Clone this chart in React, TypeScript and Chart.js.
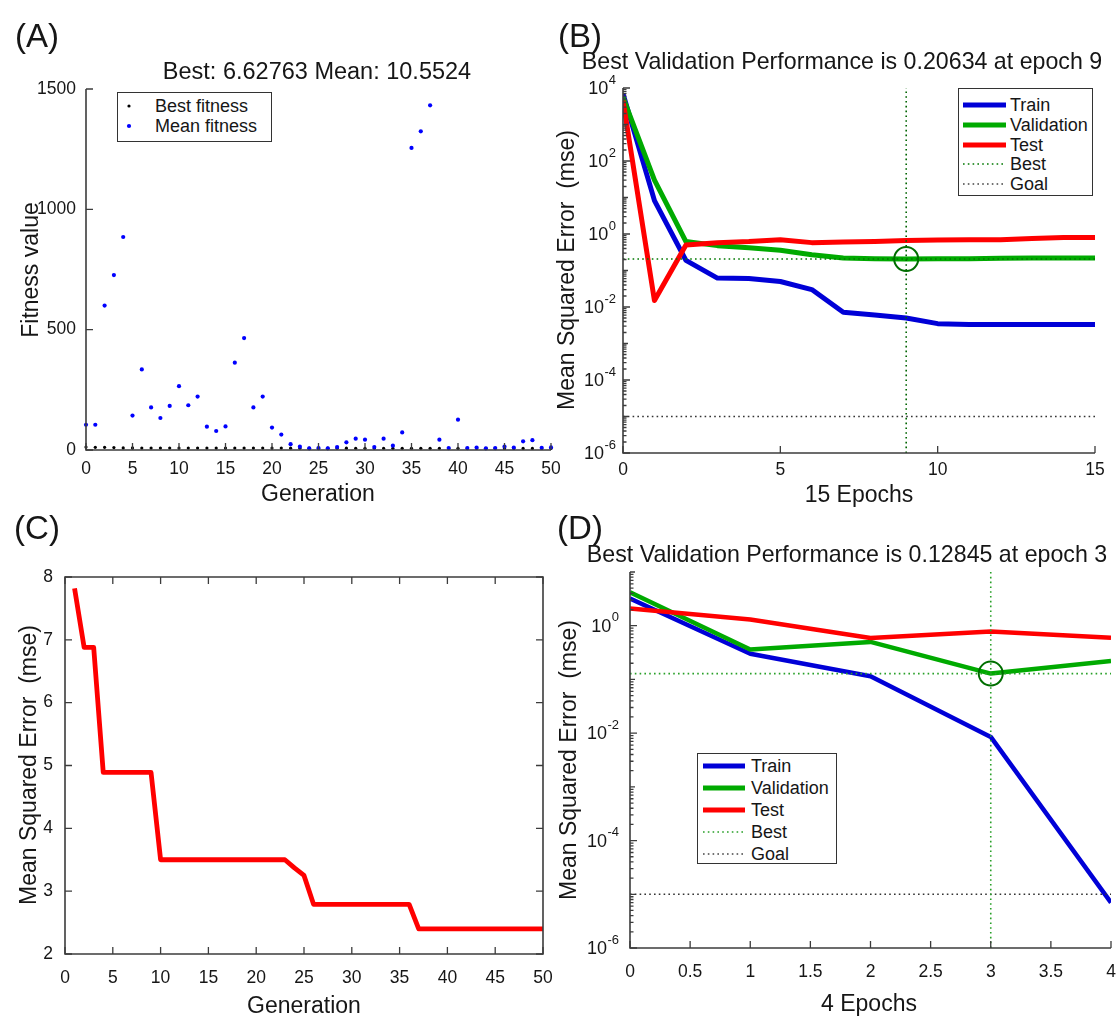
import React, { useEffect, useRef } from "react";
import { Chart, registerables } from "chart.js";

Chart.register(...registerables);

const FONT = "'Liberation Sans', Arial, Helvetica, sans-serif";
Chart.defaults.font.family = FONT;

// ---------------- Panel A : GA fitness ----------------
const generationsA = [0,1,2,3,4,5,6,7,8,9,10,11,12,13,14,15,16,17,18,19,20,21,22,23,24,25,26,27,28,29,30,31,32,33,34,35,36,37,38,39,40,41,42,43,44,45,46,47,48,49,50];
const bestFitnessA = [12,11,11,10,8.5,8.5,8,8,8,8,8,8,8,8,8,7.8,7.8,7.8,7.8,7.8,7.8,7.8,7.6,7.6,7.6,7.4,7.4,7.4,7.4,7.2,7.2,7.2,7.2,7.0,7.0,7.0,7.0,6.9,6.9,6.9,6.9,6.8,6.8,6.8,6.8,6.7,6.7,6.7,6.7,6.63,6.63];
const meanFitnessA = [105,105,600,727,885,143,335,177,133,183,265,186,222,97,79,98,363,465,177,222,93,64,24,14,7,8,7,12,32,47,43,12,47,18,73,1255,1324,1432,43,8,126,8,10,7,8,14,10,36,41,9,10.55];
const xTicksA = [0,5,10,15,20,25,30,35,40,45,50];
const yTicksA = [0,500,1000,1500];

// ---------------- Panel B : 15 epochs ----------------
const epochsB = [0,1,2,3,4,5,6,7,8,9,10,11,12,13,14,15];
const trainB = [7000,8.2,0.19,0.062,0.06,0.05,0.03,0.0072,0.006,0.005,0.0035,0.0033,0.0033,0.0033,0.0033,0.0033];
const validB = [5500,30,0.62,0.48,0.42,0.36,0.27,0.22,0.21,0.20634,0.21,0.21,0.215,0.22,0.22,0.22];
const testB = [4500,0.015,0.5,0.58,0.62,0.7,0.58,0.6,0.62,0.66,0.68,0.7,0.7,0.75,0.8,0.8];
const bestEpochB = 9;
const bestPerfB = 0.20634;
const goalB = 1e-5;
const xTicksB = [0,5,10,15];
const yLabelExpB = [4,2,0,-2,-4,-6];

// ---------------- Panel C : MSE vs generation ----------------
const generationsC = [1,2,3,4,5,6,7,8,9,10,11,12,13,14,15,16,17,18,19,20,21,22,23,24,25,26,27,28,29,30,31,32,33,34,35,36,37,38,39,40,41,42,43,44,45,46,47,48,49,50];
const mseC = [7.82,6.88,6.88,4.89,4.89,4.89,4.89,4.89,4.89,3.5,3.5,3.5,3.5,3.5,3.5,3.5,3.5,3.5,3.5,3.5,3.5,3.5,3.5,3.37,3.25,2.79,2.79,2.79,2.79,2.79,2.79,2.79,2.79,2.79,2.79,2.79,2.4,2.4,2.4,2.4,2.4,2.4,2.4,2.4,2.4,2.4,2.4,2.4,2.4,2.4];
const xTicksC = [0,5,10,15,20,25,30,35,40,45,50];
const yTicksC = [2,3,4,5,6,7,8];

// ---------------- Panel D : 4 epochs ----------------
const epochsD = [0,1,2,3,4];
const trainD = [3.2,0.3,0.115,0.0085,7e-6];
const validD = [4.2,0.36,0.5,0.12845,0.22];
const testD = [2.1,1.3,0.59,0.78,0.6];
const bestEpochD = 3;
const bestPerfD = 0.12845;
const goalD = 1e-5;
const xTicksD = [0,0.5,1,1.5,2,2.5,3,3.5,4];
const yLabelExpD = [0,-2,-4,-6];

const BLUE = "rgb(0,0,215)";
const GREEN = "rgb(0,170,0)";
const RED = "rgb(255,0,0)";
const AXIS = "#3c3c3c";
const TXT = "#161616";

type Area = { l: number; t: number; r: number; b: number };
type Frame = { left: number; top: number; width: number; height: number; area: Area };

function minorTicks(fromExp: number, toExp: number): number[] {
  const out: number[] = [];
  for (let e = fromExp; e < toExp; e++) {
    for (let m = 2; m <= 9; m++) out.push(m * Math.pow(10, e));
  }
  return out;
}
function decades(fromExp: number, toExp: number): number[] {
  const out: number[] = [];
  for (let e = fromExp; e <= toExp; e++) out.push(Math.pow(10, e));
  return out;
}

type AxesOpts = {
  box: boolean;
  xTicks: number[];
  yMajor: number[];
  yMid?: number[];
  yMinor?: number[];
  logLabels?: number[];
  logGap?: number;
};

function axesPlugin(o: AxesOpts) {
  return {
    id: "matlabAxes",
    afterDraw(chart: any) {
      const { ctx, chartArea: a } = chart;
      const xs = chart.scales.x;
      const ys = chart.scales.y;
      ctx.save();
      ctx.strokeStyle = AXIS;
      ctx.lineWidth = 1.6;
      ctx.beginPath();
      if (o.box) {
        ctx.rect(a.left, a.top, a.right - a.left, a.bottom - a.top);
      } else {
        ctx.moveTo(a.left, a.top);
        ctx.lineTo(a.left, a.bottom);
        ctx.lineTo(a.right, a.bottom);
      }
      ctx.stroke();
      ctx.lineWidth = 1.3;
      ctx.beginPath();
      const L = 7;
      for (const v of o.xTicks) {
        const p = xs.getPixelForValue(v);
        ctx.moveTo(p, a.bottom);
        ctx.lineTo(p, a.bottom - L);
        if (o.box) {
          ctx.moveTo(p, a.top);
          ctx.lineTo(p, a.top + L);
        }
      }
      const yt = (vals: number[] | undefined, len: number) => {
        for (const v of vals || []) {
          const p = ys.getPixelForValue(v);
          ctx.moveTo(a.left, p);
          ctx.lineTo(a.left + len, p);
          if (o.box) {
            ctx.moveTo(a.right, p);
            ctx.lineTo(a.right - len, p);
          }
        }
      };
      yt(o.yMajor, L);
      yt(o.yMid, 5);
      yt(o.yMinor, 3.5);
      ctx.stroke();
      if (o.logLabels) {
        ctx.fillStyle = TXT;
        const right = a.left - (o.logGap ?? 7);
        for (const e of o.logLabels) {
          const y = ys.getPixelForValue(Math.pow(10, e));
          const es = e < 0 ? "-" + Math.abs(e) : String(e);
          ctx.font = `13px ${FONT}`;
          const ew = ctx.measureText(es).width;
          ctx.textBaseline = "middle";
          ctx.textAlign = "left";
          ctx.fillText(es, right - ew, y - 8);
          ctx.font = `18px ${FONT}`;
          ctx.textAlign = "right";
          ctx.fillText("10", right - ew - 0.5, y + 1);
        }
      }
      ctx.restore();
    },
  };
}

function baseOptions(
  f: Frame,
  x: { min: number; max: number; ticks: number[]; pad: number },
  y: { type: "linear" | "logarithmic"; min: number; max: number; ticks?: number[]; pad?: number }
) {
  const a = f.area;
  const xHeight = f.top + f.height - a.b;
  const yWidth = a.l - f.left;
  return {
    responsive: false,
    maintainAspectRatio: false,
    animation: false,
    devicePixelRatio: 1,
    events: [],
    layout: { padding: { left: 0, top: a.t - f.top, right: f.left + f.width - a.r, bottom: 0 } },
    plugins: { legend: { display: false }, tooltip: { enabled: false }, title: { display: false } },
    scales: {
      x: {
        type: "linear",
        min: x.min,
        max: x.max,
        grid: { display: false, drawTicks: false },
        border: { display: false },
        ticks: {
          padding: x.pad,
          color: TXT,
          font: { family: FONT, size: 17.5 },
          maxRotation: 0,
          autoSkip: false,
          callback: (v: any) => String(v),
        },
        afterBuildTicks: (s: any) => {
          s.ticks = x.ticks.map((v) => ({ value: v }));
        },
        afterFit: (s: any) => {
          s.height = xHeight;
        },
      },
      y: {
        type: y.type,
        min: y.min,
        max: y.max,
        grid: { display: false, drawTicks: false },
        border: { display: false },
        ticks: {
          display: !!y.ticks,
          padding: y.pad ?? 10,
          color: TXT,
          font: { family: FONT, size: 17.5 },
          autoSkip: false,
          callback: (v: any) => String(v),
        },
        afterBuildTicks: (s: any) => {
          if (y.ticks) s.ticks = y.ticks.map((v) => ({ value: v }));
        },
        afterFit: (s: any) => {
          s.width = yWidth;
        },
      },
    },
  };
}

const pts = (xs: number[], ys: number[]) => xs.map((v, i) => ({ x: v, y: ys[i] }));

function lineDs(data: any[], color: string, width: number) {
  return {
    type: "line",
    data,
    borderColor: color,
    backgroundColor: color,
    borderWidth: width,
    pointRadius: 0,
    tension: 0,
    borderJoinStyle: "round",
    fill: false,
  };
}
function dottedDs(data: any[], color: string) {
  return {
    type: "line",
    data,
    borderColor: color,
    borderWidth: 1.6,
    borderDash: [1.6, 3.2],
    pointRadius: 0,
    tension: 0,
    fill: false,
  };
}
function circleDs(xv: number, yv: number, color: string) {
  return {
    type: "scatter",
    data: [{ x: xv, y: yv }],
    pointStyle: "circle",
    pointRadius: 12,
    pointBorderColor: color,
    pointBackgroundColor: "rgba(0,0,0,0)",
    pointBorderWidth: 2,
    clip: false,
  };
}

const frameA: Frame = { left: 0, top: 40, width: 580, height: 445, area: { l: 86, t: 89, r: 551, b: 450 } };
const frameB: Frame = { left: 560, top: 40, width: 580, height: 445, area: { l: 623, t: 88, r: 1095, b: 453 } };
const frameC: Frame = { left: 0, top: 530, width: 580, height: 487, area: { l: 65, t: 577, r: 543, b: 954 } };
const frameD: Frame = { left: 560, top: 530, width: 590, height: 487, area: { l: 630, t: 572, r: 1111, b: 948 } };

function makeA() {
  return {
    type: "scatter",
    data: {
      datasets: [
        {
          data: pts(generationsA, meanFitnessA),
          pointRadius: 2.1,
          pointBorderWidth: 0,
          pointBackgroundColor: "rgb(0,0,255)",
          clip: false,
        },
        {
          data: pts(generationsA, bestFitnessA),
          pointRadius: 1.6,
          pointBorderWidth: 0,
          pointBackgroundColor: "#000",
          clip: false,
        },
      ],
    },
    options: baseOptions(frameA, { min: 0, max: 50, ticks: xTicksA, pad: 9 }, { type: "linear", min: 0, max: 1500, ticks: yTicksA, pad: 10 }),
    plugins: [axesPlugin({ box: false, xTicks: xTicksA, yMajor: yTicksA })],
  };
}

function makeB() {
  const xMin = epochsB[0];
  const xMax = epochsB[epochsB.length - 1];
  return {
    type: "line",
    data: {
      datasets: [
        circleDs(bestEpochB, bestPerfB, "rgb(0,110,0)"),
        dottedDs([{ x: bestEpochB, y: 1e-6 }, { x: bestEpochB, y: 1e4 }], "rgb(0,100,0)"),
        dottedDs([{ x: xMin, y: bestPerfB }, { x: xMax, y: bestPerfB }], "rgb(0,120,0)"),
        dottedDs([{ x: xMin, y: goalB }, { x: xMax, y: goalB }], "#333"),
        lineDs(pts(epochsB, testB), RED, 5),
        lineDs(pts(epochsB, validB), GREEN, 5),
        lineDs(pts(epochsB, trainB), BLUE, 5),
      ],
    },
    options: baseOptions(frameB, { min: 0, max: 15, ticks: xTicksB, pad: 7 }, { type: "logarithmic", min: 1e-6, max: 1e4 }),
    plugins: [
      axesPlugin({
        box: false,
        xTicks: xTicksB,
        yMajor: yLabelExpB.map((e) => Math.pow(10, e)),
        yMid: decades(-5, 3).filter((v) => !yLabelExpB.includes(Math.round(Math.log10(v)))),
        yMinor: minorTicks(-6, 4),
        logLabels: yLabelExpB,
        logGap: 7,
      }),
    ],
  };
}

function makeC() {
  return {
    type: "line",
    data: { datasets: [lineDs(pts(generationsC, mseC), RED, 4.8)] },
    options: baseOptions(frameC, { min: 0, max: 50, ticks: xTicksC, pad: 14 }, { type: "linear", min: 2, max: 8, ticks: yTicksC, pad: 12 }),
    plugins: [axesPlugin({ box: true, xTicks: xTicksC, yMajor: yTicksC })],
  };
}

function makeD() {
  const xMin = epochsD[0];
  const xMax = epochsD[epochsD.length - 1];
  return {
    type: "line",
    data: {
      datasets: [
        circleDs(bestEpochD, bestPerfD, "rgb(0,110,0)"),
        dottedDs([{ x: bestEpochD, y: 1e-6 }, { x: bestEpochD, y: 10 }], "rgb(40,160,40)"),
        dottedDs([{ x: xMin, y: bestPerfD }, { x: xMax, y: bestPerfD }], "rgb(40,160,40)"),
        dottedDs([{ x: xMin, y: goalD }, { x: xMax, y: goalD }], "#333"),
        lineDs(pts(epochsD, testD), RED, 4.5),
        lineDs(pts(epochsD, validD), GREEN, 4.5),
        lineDs(pts(epochsD, trainD), BLUE, 4.5),
      ],
    },
    options: baseOptions(frameD, { min: 0, max: 4, ticks: xTicksD, pad: 14 }, { type: "logarithmic", min: 1e-6, max: 10 }),
    plugins: [
      axesPlugin({
        box: false,
        xTicks: xTicksD,
        yMajor: yLabelExpD.map((e) => Math.pow(10, e)),
        yMid: [1e-5, 1e-3, 1e-1, 10],
        yMinor: minorTicks(-6, 1),
        logLabels: yLabelExpD,
        logGap: 11,
      }),
    ],
  };
}

function ChartCanvas({ frame, make }: { frame: Frame; make: () => any }) {
  const ref = useRef<HTMLCanvasElement>(null);
  useEffect(() => {
    const chart = new Chart(ref.current as HTMLCanvasElement, make());
    return () => chart.destroy();
  }, []);
  return (
    <canvas
      ref={ref}
      width={frame.width}
      height={frame.height}
      style={{ position: "absolute", left: frame.left, top: frame.top, width: frame.width, height: frame.height }}
    />
  );
}

function Txt({ x, y, size, children, rotate }: { x: number; y: number; size: number; children: any; rotate?: boolean }) {
  return (
    <div
      style={{
        position: "absolute",
        left: x,
        top: y,
        transform: `translate(-50%, -50%)${rotate ? " rotate(-90deg)" : ""}`,
        fontFamily: FONT,
        fontSize: size,
        lineHeight: 1,
        whiteSpace: "pre",
        color: TXT,
      }}
    >
      {children}
    </div>
  );
}

type Row = { label: string; y: number; kind: "dot" | "line" | "dotted"; color: string; r?: number };

function Legend({ box, sx1, sx2, tx, rows }: { box: { l: number; t: number; w: number; h: number }; sx1: number; sx2: number; tx: number; rows: Row[] }) {
  return (
    <>
      <div
        style={{
          position: "absolute",
          left: box.l,
          top: box.t,
          width: box.w,
          height: box.h,
          border: "1.4px solid #333",
          background: "#fff",
          boxSizing: "border-box",
        }}
      />
      {rows.map((r, i) => (
        <React.Fragment key={i}>
          <svg
            style={{ position: "absolute", left: sx1, top: r.y - 5, overflow: "visible" }}
            width={sx2 - sx1}
            height={10}
          >
            {r.kind === "dot" ? (
              <circle cx={(sx2 - sx1) / 2} cy={5} r={r.r ?? 2} fill={r.color} />
            ) : r.kind === "line" ? (
              <line x1={0} y1={5} x2={sx2 - sx1} y2={5} stroke={r.color} strokeWidth={5} />
            ) : (
              <line x1={0} y1={5} x2={sx2 - sx1} y2={5} stroke={r.color} strokeWidth={1.6} strokeDasharray="1.6 3.2" />
            )}
          </svg>
          <div
            style={{
              position: "absolute",
              left: tx,
              top: r.y,
              transform: "translateY(-50%)",
              fontFamily: FONT,
              fontSize: 18,
              lineHeight: 1,
              whiteSpace: "pre",
              color: TXT,
            }}
          >
            {r.label}
          </div>
        </React.Fragment>
      ))}
    </>
  );
}

export default function App() {
  return (
    <div style={{ position: "absolute", left: 0, top: 0, width: 1118, height: 1017, background: "#fff", overflow: "hidden" }}>
      <ChartCanvas frame={frameA} make={makeA} />
      <ChartCanvas frame={frameB} make={makeB} />
      <ChartCanvas frame={frameC} make={makeC} />
      <ChartCanvas frame={frameD} make={makeD} />

      <Txt x={37} y={35} size={33}>(A)</Txt>
      <Txt x={580} y={35} size={33}>(B)</Txt>
      <Txt x={37} y={527} size={33}>(C)</Txt>
      <Txt x={580} y={527} size={33}>(D)</Txt>

      <Txt x={317} y={72} size={23.5}>Best: 6.62763 Mean: 10.5524</Txt>
      <Txt x={842} y={62} size={23.2}>Best Validation Performance is 0.20634 at epoch 9</Txt>
      <Txt x={847} y={555} size={23.2}>Best Validation Performance is 0.12845 at epoch 3</Txt>

      <Txt x={318} y={493} size={23}>Generation</Txt>
      <Txt x={859} y={494} size={23}>15 Epochs</Txt>
      <Txt x={304} y={1005} size={23}>Generation</Txt>
      <Txt x={869} y={1003} size={23}>4 Epochs</Txt>

      <Txt x={30} y={270} size={23} rotate>Fitness value</Txt>
      <Txt x={566} y={270} size={23} rotate>{"Mean Squared Error  (mse)"}</Txt>
      <Txt x={28} y={765} size={23} rotate>{"Mean Squared Error  (mse)"}</Txt>
      <Txt x={568} y={760} size={23} rotate>{"Mean Squared Error  (mse)"}</Txt>

      <Legend
        box={{ l: 117, t: 92, w: 155, h: 50 }}
        sx1={120}
        sx2={138}
        tx={155}
        rows={[
          { label: "Best fitness", y: 106, kind: "dot", color: "#000", r: 1.6 },
          { label: "Mean fitness", y: 126, kind: "dot", color: "rgb(0,0,255)", r: 2.1 },
        ]}
      />
      <Legend
        box={{ l: 958, t: 88, w: 135, h: 108 }}
        sx1={963}
        sx2={1006}
        tx={1010}
        rows={[
          { label: "Train", y: 105, kind: "line", color: BLUE },
          { label: "Validation", y: 125, kind: "line", color: GREEN },
          { label: "Test", y: 145, kind: "line", color: RED },
          { label: "Best", y: 164, kind: "dotted", color: "rgb(0,120,0)" },
          { label: "Goal", y: 184, kind: "dotted", color: "#444" },
        ]}
      />
      <Legend
        box={{ l: 697, t: 753, w: 140, h: 111 }}
        sx1={703}
        sx2={745}
        tx={751}
        rows={[
          { label: "Train", y: 766, kind: "line", color: BLUE },
          { label: "Validation", y: 788, kind: "line", color: GREEN },
          { label: "Test", y: 810, kind: "line", color: RED },
          { label: "Best", y: 832, kind: "dotted", color: "rgb(40,160,40)" },
          { label: "Goal", y: 854, kind: "dotted", color: "#444" },
        ]}
      />
    </div>
  );
}
